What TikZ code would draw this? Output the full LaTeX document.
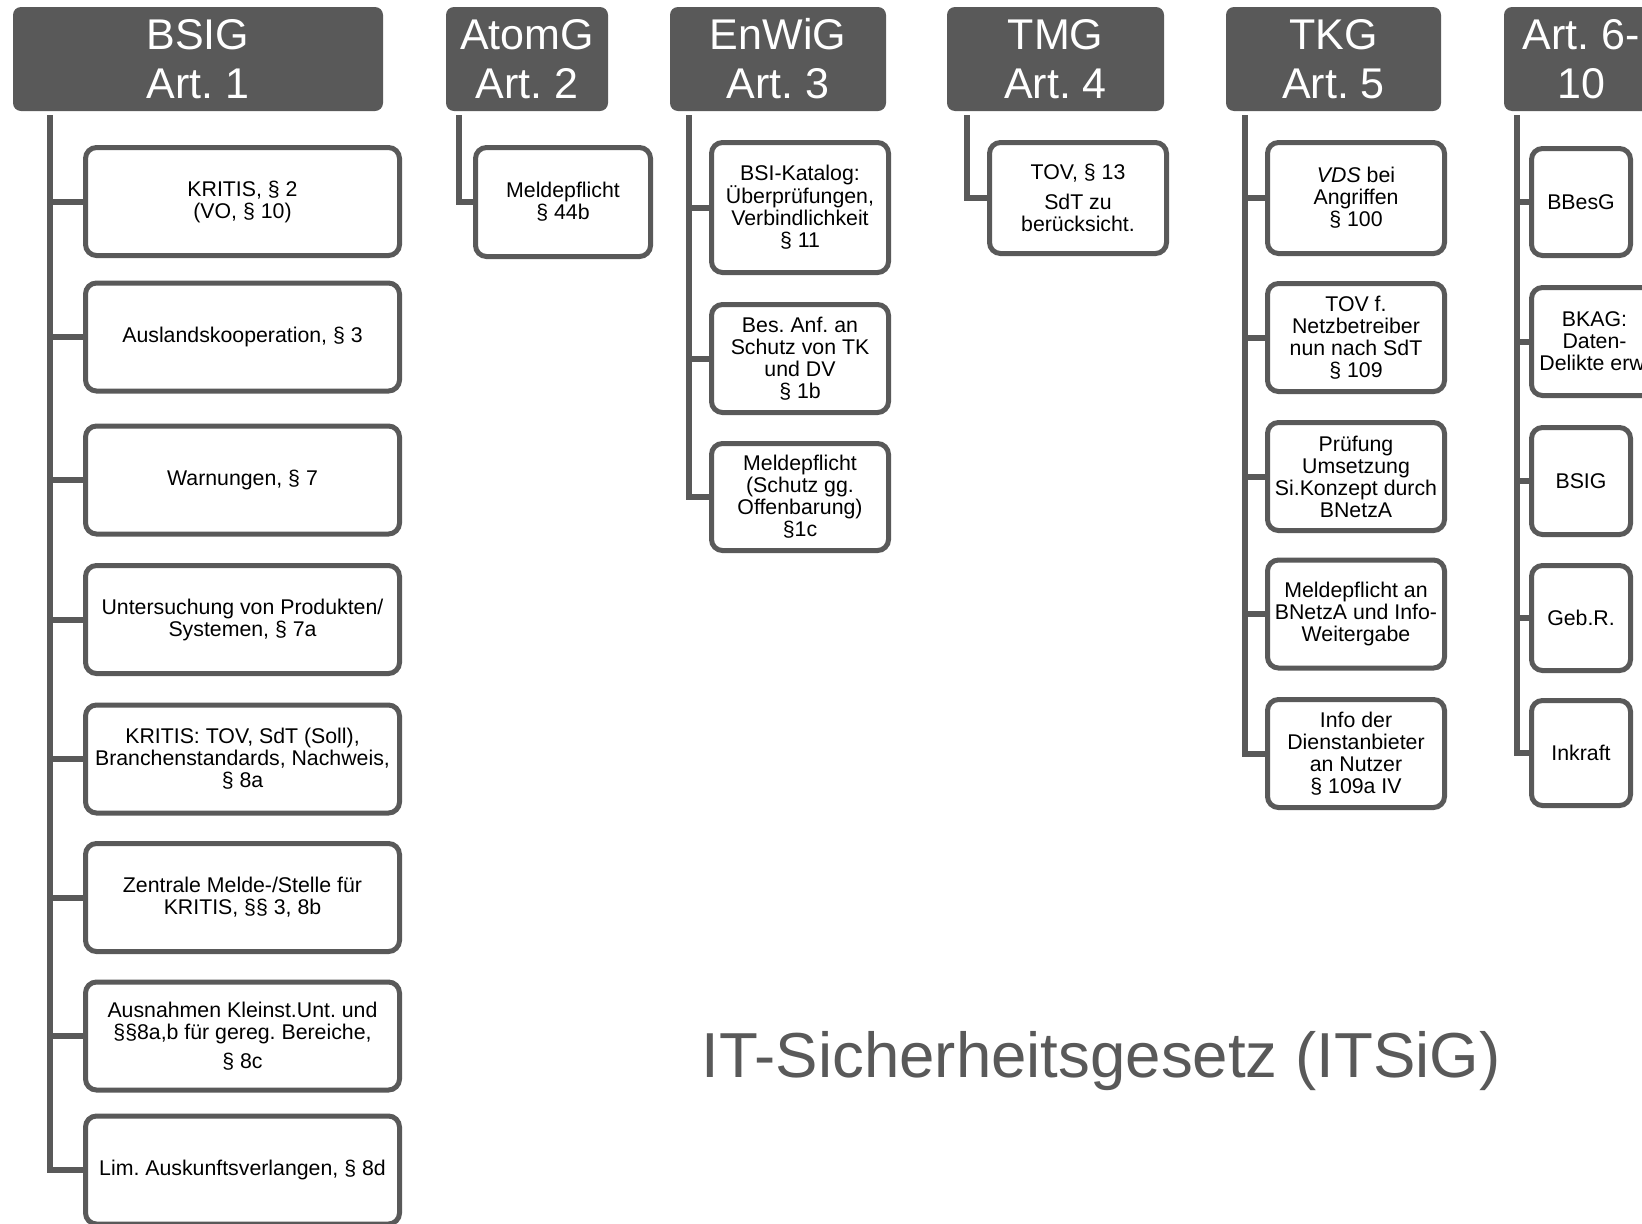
\documentclass[tikz,border=0pt]{standalone}
\usepackage{fontspec}
\setmainfont{Liberation Sans}
\usetikzlibrary{backgrounds}
\definecolor{gr}{RGB}{89,89,89}
\frenchspacing
\begin{document}
\begin{tikzpicture}[x=1pt,y=-1pt,
  hdr/.style={fill=gr, rounded corners=8pt, text=white, align=center,
    inner sep=0pt, font=\fontsize{43}{49}\selectfont},
  kid/.style={draw=gr, line width=5pt, fill=white, rounded corners=11pt,
    align=center, inner sep=2pt, text=black,
    font=\fontsize{21.3}{22}\selectfont},
  conn/.style={draw=gr, line width=6pt, line join=miter}]
\clip (0,0) rectangle (1642,1224);

% ---------- column headers ----------
\node[hdr, minimum width=370pt, minimum height=104pt] (hBSIG) at (198,59) {BSIG\\Art. 1};
\node[hdr, minimum width=162pt, minimum height=104pt] (hAtom) at (527,59) {AtomG\\Art. 2};
\node[hdr, minimum width=216pt, minimum height=104pt] (hEnW) at (778,59) {EnWiG\\Art. 3};
\node[hdr, minimum width=217pt, minimum height=104pt] (hTMG) at (1055.5,59) {TMG\\Art. 4};
\node[hdr, minimum width=215pt, minimum height=104pt] (hTKG) at (1333.5,59) {TKG\\Art. 5};
\node[hdr, minimum width=154pt, minimum height=104pt] (hArt) at (1581,59) {Art. 6-\\10};

% ---------- BSIG ----------
\begin{scope}[every node/.append style={kid, minimum width=314pt, minimum height=108pt}]
\node (b1) at (242.5,201.5) {KRITIS, § 2\\(VO, § 10)};
\node (b2) at (242.5,337) {Auslandskooperation, § 3};
\node (b3) at (242.5,480) {Warnungen, § 7};
\node (b4) at (242.5,619.5) {Untersuchung von Produkten/\\Systemen, § 7a};
\node (b5) at (242.5,759) {KRITIS: TOV, SdT (Soll),\\Branchenstandards, Nachweis,\\§ 8a};
\node (b6) at (242.5,897.5) {Zentrale Melde-/Stelle für\\KRITIS, §§ 3, 8b};
\node (b7) at (242.5,1036) {Ausnahmen Kleinst.Unt. und\\§§8a,b für gereg. Bereiche,\\[7pt]§ 8c};
\node (b8) at (242.5,1170) {Lim. Auskunftsverlangen, § 8d};
\end{scope}

% ---------- AtomG ----------
\node[kid, minimum width=175pt, minimum height=109pt] (a1) at (563,202) {Meldepflicht\\§ 44b};

% ---------- EnWiG ----------
\begin{scope}[every node/.append style={kid, minimum width=177pt}]
\node[minimum height=130pt] (e1) at (800,207.5) {BSI-Katalog:\\Überprüfungen,\\Verbindlichkeit\\§ 11};
\node[minimum height=108pt] (e2) at (800,358.5) {Bes. Anf. an\\Schutz von TK\\und DV\\§ 1b};
\node[minimum height=107pt] (e3) at (800,497) {Meldepflicht\\(Schutz gg.\\Offenbarung)\\§1c};
\end{scope}

% ---------- TMG ----------
\node[kid, minimum width=177pt, minimum height=111pt] (m1) at (1078,198) {TOV, § 13\\[8pt]SdT zu\\berücksicht.};

% ---------- TKG ----------
\begin{scope}[every node/.append style={kid, minimum width=177pt, minimum height=108pt}]
\node[minimum height=111pt] (k1) at (1356,198) {\textit{VDS} bei\\Angriffen\\§ 100};
\node (k2) at (1356,337.5) {TOV f.\\Netzbetreiber\\nun nach SdT\\§ 109};
\node (k3) at (1356,476.5) {Prüfung\\Umsetzung\\Si.Konzept durch\\BNetzA};
\node (k4) at (1356,614) {Meldepflicht an\\BNetzA und Info-\\Weitergabe};
\node (k5) at (1356,753.5) {Info der\\Dienstanbieter\\an Nutzer\\§ 109a IV};
\end{scope}

% ---------- Art. 6-10 ----------
\begin{scope}[every node/.append style={kid, minimum width=99pt, minimum height=107pt}]
\node (r1) at (1581,202) {BBesG};
\node[minimum width=126pt, minimum height=108pt] (r2) at (1594.5,341.5) {BKAG:\\Daten-\\Delikte erw.};
\node (r3) at (1581,481) {BSIG};
\node[minimum height=105pt] (r4) at (1581,618) {Geb.R.};
\node[minimum height=105pt] (r5) at (1581,753) {Inkraft};
\end{scope}

% ---------- title ----------
\node[anchor=base, text=gr, font=\fontsize{63.6}{70}\selectfont, inner sep=0pt]
  (title) at (1101,1077) {IT-Sicherheitsgesetz (ITSiG)};

% ---------- connectors ----------
\coordinate (tBSIG) at (50,115);
\coordinate (tAtom) at (459,115);
\coordinate (tEnW) at (689,115);
\coordinate (tTMG) at (967,115);
\coordinate (tTKG) at (1245,115);
\coordinate (tArt) at (1517,115);
\begin{pgfonlayer}{background}
  \draw[conn] (tBSIG) |- (b8.west);
  \foreach \k in {b1,b2,b3,b4,b5,b6,b7}
    \draw[conn] (\k.west) -- (\k.west -| tBSIG);
  \draw[conn] (tAtom) |- (a1.west);
  \draw[conn] (tEnW) |- (e3.west);
  \foreach \k in {e1,e2}
    \draw[conn] (\k.west) -- (\k.west -| tEnW);
  \draw[conn] (tTMG) |- (m1.west);
  \draw[conn] (tTKG) |- (k5.west);
  \foreach \k in {k1,k2,k3,k4}
    \draw[conn] (\k.west) -- (\k.west -| tTKG);
  \draw[conn] (tArt) |- (r5.west);
  \foreach \k in {r1,r2,r3,r4}
    \draw[conn] (\k.west) -- (\k.west -| tArt);
\end{pgfonlayer}
\end{tikzpicture}
\end{document}
